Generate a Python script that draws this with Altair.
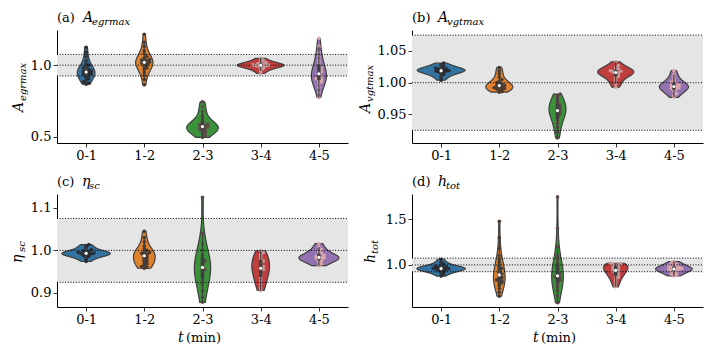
import json
import numpy as np
import altair as alt
import pandas as pd

GROUPS = ["0-1", "1-2", "2-3", "3-4", "4-5"]
FILL = ["#3274a1", "#e1812c", "#3a923a", "#c03d3e", "#9372b2"]
DOTS = ["#2b2b33", "#4a3a30", "#5e4a48", "#c99a98", "#d9a6ab"]
BAND = [0.925, 1.075]
REFS = [0.925, 1.0, 1.075]

# (a) A_egrmax
A_EGR = [
    [0.868, 0.875, 0.885, 0.895, 0.905, 0.915, 0.925, 0.93, 0.935, 0.94, 0.945, 0.95,
     0.955, 0.96, 0.965, 0.97, 0.98, 0.99, 1.0, 1.01, 1.03, 1.06, 1.09, 1.125],
    [0.863, 0.90, 0.93, 0.95, 0.97, 0.98, 0.99, 1.0, 1.005, 1.01, 1.015, 1.02, 1.025,
     1.03, 1.035, 1.04, 1.05, 1.06, 1.08, 1.10, 1.13, 1.16, 1.215],
    [0.497, 0.51, 0.52, 0.53, 0.54, 0.545, 0.55, 0.555, 0.56, 0.565, 0.57, 0.575, 0.58,
     0.585, 0.59, 0.60, 0.61, 0.63, 0.65, 0.68, 0.71, 0.745],
    [0.942, 0.96, 0.97, 0.978, 0.985, 0.99, 0.993, 0.996, 0.998, 1.0, 1.002, 1.005,
     1.008, 1.012, 1.018, 1.025, 1.035, 1.048],
    [0.775, 0.81, 0.845, 0.87, 0.885, 0.895, 0.90, 0.905, 0.91, 0.92, 0.935, 0.945,
     0.955, 0.965, 0.98, 0.995, 1.01, 1.03, 1.06, 1.09, 1.13, 1.187],
]
# (b) A_vgtmax
A_VGT = [
    [1.004, 1.008, 1.011, 1.013, 1.015, 1.016, 1.017, 1.018, 1.0185, 1.019, 1.02, 1.0205,
     1.021, 1.022, 1.023, 1.024, 1.026, 1.028, 1.031],
    [0.985, 0.986, 0.988, 0.989, 0.99, 0.991, 0.992, 0.993, 0.994, 0.995, 0.996, 0.997,
     0.998, 1.0, 1.002, 1.005, 1.009, 1.014, 1.019, 1.024],
    [0.913, 0.922, 0.93, 0.936, 0.941, 0.945, 0.948, 0.951, 0.954, 0.956, 0.958, 0.96,
     0.962, 0.965, 0.968, 0.971, 0.975, 0.979, 0.982],
    [0.993, 0.998, 1.003, 1.007, 1.01, 1.012, 1.014, 1.015, 1.016, 1.017, 1.018, 1.019,
     1.02, 1.022, 1.024, 1.027, 1.033],
    [0.977, 0.98, 0.983, 0.986, 0.988, 0.99, 0.991, 0.992, 0.993, 0.994, 0.995, 0.996,
     0.997, 0.999, 1.001, 1.004, 1.008, 1.013, 1.019],
]
# (c) eta_sc
ETA_SC = [
    [0.974, 0.979, 0.983, 0.986, 0.988, 0.989, 0.99, 0.991, 0.992, 0.993, 0.994, 0.995,
     0.996, 0.997, 0.999, 1.002, 1.006, 1.01, 1.0135],
    [0.958, 0.96, 0.962, 0.965, 0.968, 0.971, 0.974, 0.977, 0.98, 0.983, 0.986, 0.989,
     0.991, 0.993, 0.995, 0.997, 1.0, 1.003, 1.01, 1.02, 1.03, 1.045],
    [0.878, 0.89, 0.905, 0.92, 0.93, 0.938, 0.945, 0.95, 0.955, 0.96, 0.965, 0.97, 0.975,
     0.98, 0.99, 1.0, 1.015, 1.04, 1.125],
    [0.906, 0.912, 0.92, 0.928, 0.935, 0.94, 0.945, 0.95, 0.955, 0.958, 0.962, 0.966,
     0.97, 0.975, 0.98, 0.985, 0.99, 0.995, 0.999],
    [0.964, 0.968, 0.972, 0.975, 0.977, 0.979, 0.981, 0.982, 0.983, 0.984, 0.986, 0.988,
     0.99, 0.993, 0.997, 1.002, 1.008, 1.016],
]
# (d) h_tot
H_TOT = [
    [0.877, 0.9, 0.915, 0.925, 0.935, 0.94, 0.945, 0.95, 0.955, 0.958, 0.962, 0.965,
     0.968, 0.972, 0.978, 0.985, 0.995, 1.01, 1.03, 1.062],
    [0.655, 0.7, 0.74, 0.77, 0.79, 0.805, 0.815, 0.825, 0.835, 0.845, 0.86, 0.88, 0.9,
     0.92, 0.94, 0.96, 0.98, 1.0, 1.03, 1.06, 1.1, 1.18, 1.3, 1.48],
    [0.584, 0.66, 0.72, 0.76, 0.79, 0.81, 0.83, 0.85, 0.86, 0.87, 0.88, 0.9, 0.92, 0.95,
     0.98, 1.02, 1.06, 1.1, 1.2, 1.4, 1.748],
    [0.759, 0.79, 0.82, 0.845, 0.865, 0.88, 0.895, 0.91, 0.92, 0.93, 0.94, 0.95, 0.96,
     0.97, 0.98, 0.99, 0.995, 1.0, 1.005, 1.012, 1.018],
    [0.878, 0.89, 0.9, 0.91, 0.92, 0.93, 0.935, 0.94, 0.945, 0.95, 0.955, 0.96, 0.965,
     0.97, 0.975, 0.98, 0.99, 1.0, 1.01, 1.022, 1.037],
]

# widest half-width of each violin (in category units)
HW_EGR = [0.152, 0.149, 0.272, 0.40, 0.13]
HW_VGT = [0.41, 0.232, 0.146, 0.31, 0.25]
HW_ETA = [0.415, 0.186, 0.14, 0.152, 0.344]
HW_HTOT = [0.415, 0.10, 0.10, 0.209, 0.315]

FONT = "DejaVu Serif"
W, H = 291, 113
EDGE = "#3f3f3f"


def scott_bw(vals):
    v = np.asarray(vals, dtype=float)
    return float(np.std(v, ddof=1) * len(v) ** (-0.2))


def label(s, x, y, size, italic=False, angle=0):
    return alt.Chart(alt.Data(values=[{"k": 0}])).mark_text(
        text=s, font=FONT, fontSize=size,
        fontStyle="italic" if italic else "normal",
        align="left", baseline="alphabetic", angle=angle, color="black",
    ).encode(x=alt.value(x), y=alt.value(y))


def panel(values, widths, domain, ticks, fmt, title, ylab, xlab):
    rows = [{"grp": g, "value": v} for g, vals in enumerate(values) for v in vals]
    df = pd.DataFrame(rows)
    xsc = alt.Scale(domain=[-0.5, 4.5], nice=False, zero=False)
    ysc = alt.Scale(domain=domain, nice=False, zero=False)
    xaxis = alt.Axis(values=[0, 1, 2, 3, 4], labelExpr=f"{json.dumps(GROUPS)}[datum.value]",
                     title=None, grid=False)
    yaxis = alt.Axis(values=ticks, format=fmt, title=None, grid=False)
    dot_expr = f"{json.dumps(DOTS)}[datum.grp]"

    band = alt.Chart(alt.Data(values=[{"lo": BAND[0], "hi": BAND[1]}])).mark_rect(
        color="#e5e5e5").encode(
        y=alt.Y("lo:Q", scale=ysc, axis=yaxis), y2="hi:Q",
        x=alt.value(0), x2=alt.value(W))

    violins = []
    for g, vals in enumerate(values):
        w = widths[g]
        violins.append(
            alt.Chart(df).transform_filter(f"datum.grp == {g}").transform_density(
                "value", as_=["value", "density"], bandwidth=scott_bw(vals),
                extent=[min(vals), max(vals)], steps=150,
            ).transform_joinaggregate(maxd="max(density)").transform_calculate(
                xl=f"{g} - {w}*datum.density/datum.maxd",
                xr=f"{g} + {w}*datum.density/datum.maxd",
            ).mark_area(orient="horizontal", fill=FILL[g], stroke=EDGE,
                        strokeWidth=1.2, opacity=1).encode(
                y=alt.Y("value:Q", scale=ysc, axis=yaxis),
                x=alt.X("xl:Q", scale=xsc, axis=xaxis, stack=None),
                x2="xr:Q",
            )
        )

    binsize = (domain[1] - domain[0]) / 40.0
    swarm = alt.Chart(df).transform_calculate(
        vb=f"floor(datum.value/{binsize})"
    ).transform_window(
        rn="row_number()", groupby=["grp", "vb"], sort=[alt.SortField("value")]
    ).transform_calculate(
        sx="datum.grp + (((datum.rn-1)%2)==1 ? 1 : -1)*ceil((datum.rn-1)/2)*0.045",
        pc=dot_expr,
    ).mark_circle(size=13, opacity=1).encode(
        x=alt.X("sx:Q", scale=xsc, axis=xaxis),
        y=alt.Y("value:Q", scale=ysc, axis=yaxis),
        color=alt.Color("pc:N", scale=None),
    )

    refs = alt.Chart(alt.Data(values=[{"r": r} for r in REFS])).mark_rule(
        color="black", strokeWidth=1, strokeDash=[1, 1.7]).encode(
        y=alt.Y("r:Q", scale=ysc, axis=yaxis), x=alt.value(0), x2=alt.value(W))

    whisk = alt.Chart(df).transform_joinaggregate(
        q1="q1(value)", q3="q3(value)", groupby=["grp"]
    ).transform_filter(
        "datum.value >= datum.q1 - 1.5*(datum.q3-datum.q1) && datum.value <= datum.q3 + 1.5*(datum.q3-datum.q1)"
    ).transform_aggregate(
        lo="min(value)", hi="max(value)", groupby=["grp"]
    ).mark_rule(color=EDGE, strokeWidth=1.2).encode(
        x=alt.X("grp:Q", scale=xsc, axis=xaxis),
        y=alt.Y("lo:Q", scale=ysc, axis=yaxis), y2="hi:Q")

    stats = alt.Chart(df).transform_aggregate(
        q1="q1(value)", q3="q3(value)", med="median(value)", groupby=["grp"])
    iqr = stats.mark_rule(color=EDGE, strokeWidth=3.5).encode(
        x=alt.X("grp:Q", scale=xsc, axis=xaxis),
        y=alt.Y("q1:Q", scale=ysc, axis=yaxis), y2="q3:Q")
    med = stats.mark_point(filled=True, color="white", size=10, opacity=1,
                           shape="circle").encode(
        x=alt.X("grp:Q", scale=xsc, axis=xaxis),
        y=alt.Y("med:Q", scale=ysc, axis=yaxis))

    texts = []
    (tag, main, sub, mx, sx) = title
    texts.append(label(tag, 0, -8, 13))
    texts.append(label(main, mx, -8, 14, italic=True))
    texts.append(label(sub, sx, -5, 10, italic=True))
    (ymain, ysub, bx, by, sbx, sby) = ylab
    texts.append(label(ymain, bx, by, 14, italic=True, angle=270))
    texts.append(label(ysub, sbx, sby, 10, italic=True, angle=270))
    if xlab:
        texts.append(label("t", 121, H + 35, 14, italic=True))
        texts.append(label("(min)", 129, H + 35, 13))

    return alt.layer(band, *violins, swarm, refs, whisk, iqr, med, *texts).properties(
        width=W, height=H)


pa = panel(A_EGR, HW_EGR, [0.458, 1.245], [0.5, 1.0], ".1f",
           ("(a)", "A", "egrmax", 26, 35), ("A", "egrmax", -34, 82, -31, 71), False)
pb = panel(A_VGT, HW_VGT, [0.905, 1.083], [0.95, 1.0, 1.05], ".2f",
           ("(b)", "A", "vgtmax", 26, 35), ("A", "vgtmax", -42, 83, -39, 72), False)
pc = panel(ETA_SC, HW_ETA, [0.867, 1.1325], [0.9, 1.0, 1.1], ".1f",
           ("(c)", "η", "sc", 25, 32), ("η", "sc", -35, 69, -32, 58), True)
pd_ = panel(H_TOT, HW_HTOT, [0.537, 1.78], [1.0, 1.5], ".1f",
            ("(d)", "h", "tot", 26, 34), ("h", "tot", -37, 69, -34, 60), True)

chart = alt.concat(
    pa, pb, pc, pd_, columns=2, spacing={"row": 51, "column": 64}, bounds="flush"
).properties(
    padding={"left": 3, "top": 3, "right": 2, "bottom": 2}
).configure_view(stroke=None).configure_axis(
    labelFont=FONT, labelFontSize=13, labelColor="black", tickColor="black",
    domainColor="black", tickSize=4, tickWidth=0.8, domainWidth=1, labelPadding=2,
)

chart.save("out.html", embed_options={"renderer": "svg", "actions": False})
